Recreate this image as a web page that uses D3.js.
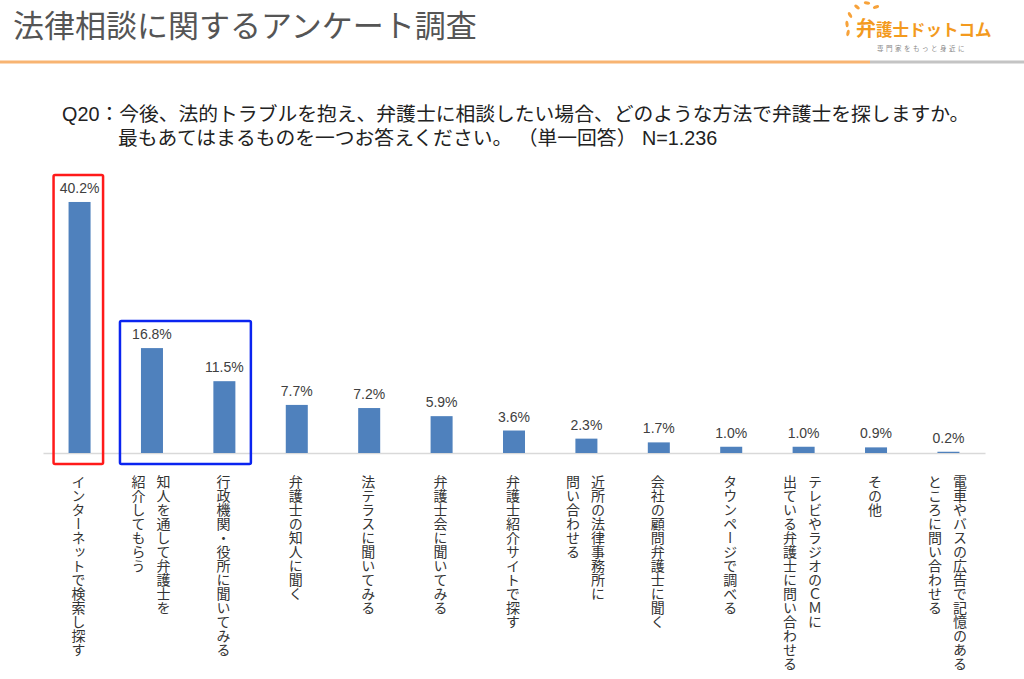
<!DOCTYPE html>
<html>
<head>
<meta charset="utf-8">
<script src="https://cdn.jsdelivr.net/npm/d3@7"></script>
<style>
  body { margin: 0; background: #fff; }
  svg { display: block; }
</style>
</head>
<body>
<svg class="chart"></svg>
<script>
// Data
var categories = [
  "インターネットで検索し探す",
  "知人を通して弁護士を\n紹介してもらう",
  "行政機関・役所に聞いてみる",
  "弁護士の知人に聞く",
  "法テラスに聞いてみる",
  "弁護士会に聞いてみる",
  "弁護士紹介サイトで探す",
  "近所の法律事務所に\n問い合わせる",
  "会社の顧問弁護士に聞く",
  "タウンページで調べる",
  "テレビやラジオのＣＭに\n出ている弁護士に問い合わせる",
  "その他",
  "電車やバスの広告で記憶のある\nところに問い合わせる"
];
var values = [40.2, 16.8, 11.5, 7.7, 7.2, 5.9, 3.6, 2.3, 1.7, 1.0, 1.0, 0.9, 0.2];

// highlighted groups (index ranges)
var highlightFrom = [0, 1],
    highlightTo = [0, 2],
    highlightColor = ["#ff1a1a", "#0a24f0"];

var titleText = "法律相談に関するアンケート調査";
var questionLines = [
  "Q20：今後、法的トラブルを抱え、弁護士に相談したい場合、どのような方法で弁護士を探しますか。",
  "最もあてはまるものを一つお答えください。 （単一回答） N=1.236"
];

var w = 1024,
    h = 679;

var svg = d3.select(".chart")
    .attr("width", w)
    .attr("height", h);

var jp = "'Noto Sans CJK JP', sans-serif";
var latinJp = "'Liberation Sans', Arial, 'Noto Sans CJK JP', sans-serif";

// Header
svg.append("text")
    .attr("x", 13)
    .attr("y", 37)
    .attr("font-family", jp)
    .attr("font-size", 31)
    .attr("fill", "#555")
    .text(titleText);

svg.append("line")
    .attr("x1", 0).attr("x2", 870)
    .attr("y1", 62).attr("y2", 62)
    .attr("stroke", "#f8b472").attr("stroke-width", 3);
svg.append("line")
    .attr("x1", 870).attr("x2", w)
    .attr("y1", 62).attr("y2", 62)
    .attr("stroke", "#c4c4c4").attr("stroke-width", 3);

// Logo
var logo = svg.append("g");
var petals = [[848, 33, -80], [847, 24, -95], [850, 15, -120], [857, 7, -140], [867, 3, -170], [876, 7, 160]];
logo.selectAll("ellipse")
    .data(petals)
    .enter().append("ellipse")
    .attr("cx", function(d) { return d[0]; })
    .attr("cy", function(d) { return d[1]; })
    .attr("rx", 1.6).attr("ry", 3.2)
    .attr("transform", function(d) { return "rotate(" + (d[2] + 90) + "," + d[0] + "," + d[1] + ")"; })
    .attr("fill", "#f7a23a");
logo.append("text")
    .attr("x", 856).attr("y", 36)
    .attr("font-family", jp)
    .attr("font-weight", 700)
    .attr("font-size", 16.5)
    .attr("fill", "#f39a1e")
    .html("<tspan font-size='20'>弁</tspan>護士ドットコム");
logo.append("text")
    .attr("x", 877).attr("y", 51)
    .attr("font-family", jp)
    .attr("font-size", 6.5)
    .attr("letter-spacing", 2.5)
    .attr("fill", "#888")
    .text("専門家をもっと身近に");

// Question
svg.append("text")
    .attr("x", 62).attr("y", 121)
    .attr("font-family", latinJp)
    .attr("font-size", 19.8)
    .attr("fill", "#222")
    .text(questionLines[0]);
svg.append("text")
    .attr("x", 118).attr("y", 145)
    .attr("font-family", latinJp)
    .attr("font-size", 19.8)
    .attr("fill", "#222")
    .text(questionLines[1]);

// Scales
var x = d3.scaleBand()
    .domain(categories)
    .range([43, 985])
    .paddingInner(0.696)
    .paddingOuter(0.353);

var y = d3.scaleLinear()
    .domain([0, 45])
    .range([453, 172]);

// Axis line
var xAxis = d3.axisBottom(x).tickSize(0).tickFormat("");
var axisG = svg.append("g")
    .attr("transform", "translate(0," + y(0) + ")")
    .call(xAxis);
axisG.select(".domain").attr("stroke", "#d9d9d9").attr("stroke-width", 1.5);

// Bars
svg.selectAll(".bar")
    .data(values)
    .enter().append("rect")
    .attr("class", "bar")
    .attr("x", function(d, i) { return x(categories[i]); })
    .attr("y", function(d) { return y(d); })
    .attr("width", x.bandwidth())
    .attr("height", function(d) { return y(0) - y(d); })
    .attr("fill", "#4f81bd");

// Value labels
svg.selectAll(".val")
    .data(values)
    .enter().append("text")
    .attr("class", "val")
    .attr("x", function(d, i) { return x(categories[i]) + x.bandwidth() / 2; })
    .attr("y", function(d) { return y(d) - 9; })
    .attr("text-anchor", "middle")
    .attr("font-family", "'Liberation Sans', Arial, sans-serif")
    .attr("font-size", 14)
    .attr("fill", "#404040")
    .text(function(d) { return d.toFixed(1) + "%"; });

// Category labels (vertical, columns right to left)
var labelG = svg.append("g");
categories.forEach(function(c, i) {
    var lines = c.split("\n");
    var cx = x(c) + x.bandwidth() / 2 - 1;
    lines.forEach(function(line, j) {
        var off = lines.length === 1 ? 0 : (j === 0 ? 12.5 : -12.5);
        labelG.append("text")
            .attr("x", cx + off)
            .attr("y", 475)
            .attr("font-family", jp)
            .attr("font-size", 14)
            .attr("fill", "#333")
            .style("writing-mode", "vertical-rl")
            .text(line);
    });
});

// Highlight boxes (multi-bar box gets a bit more room)
highlightFrom.forEach(function(f, k) {
    var t = highlightTo[k];
    var maxV = d3.max(values.slice(f, t + 1));
    var wide = t > f;
    var x0 = x(categories[f]) - (wide ? 21 : 15),
        x1 = x(categories[t]) + x.bandwidth() + (wide ? 15.5 : 12.5);
    svg.append("rect")
        .attr("x", x0)
        .attr("y", y(maxV) - 27)
        .attr("width", x1 - x0)
        .attr("height", y(0) + 11 - (y(maxV) - 27))
        .attr("fill", "none")
        .attr("stroke", highlightColor[k])
        .attr("stroke-width", 2.5)
        .attr("rx", 1.5);
});
</script>
</body>
</html>
